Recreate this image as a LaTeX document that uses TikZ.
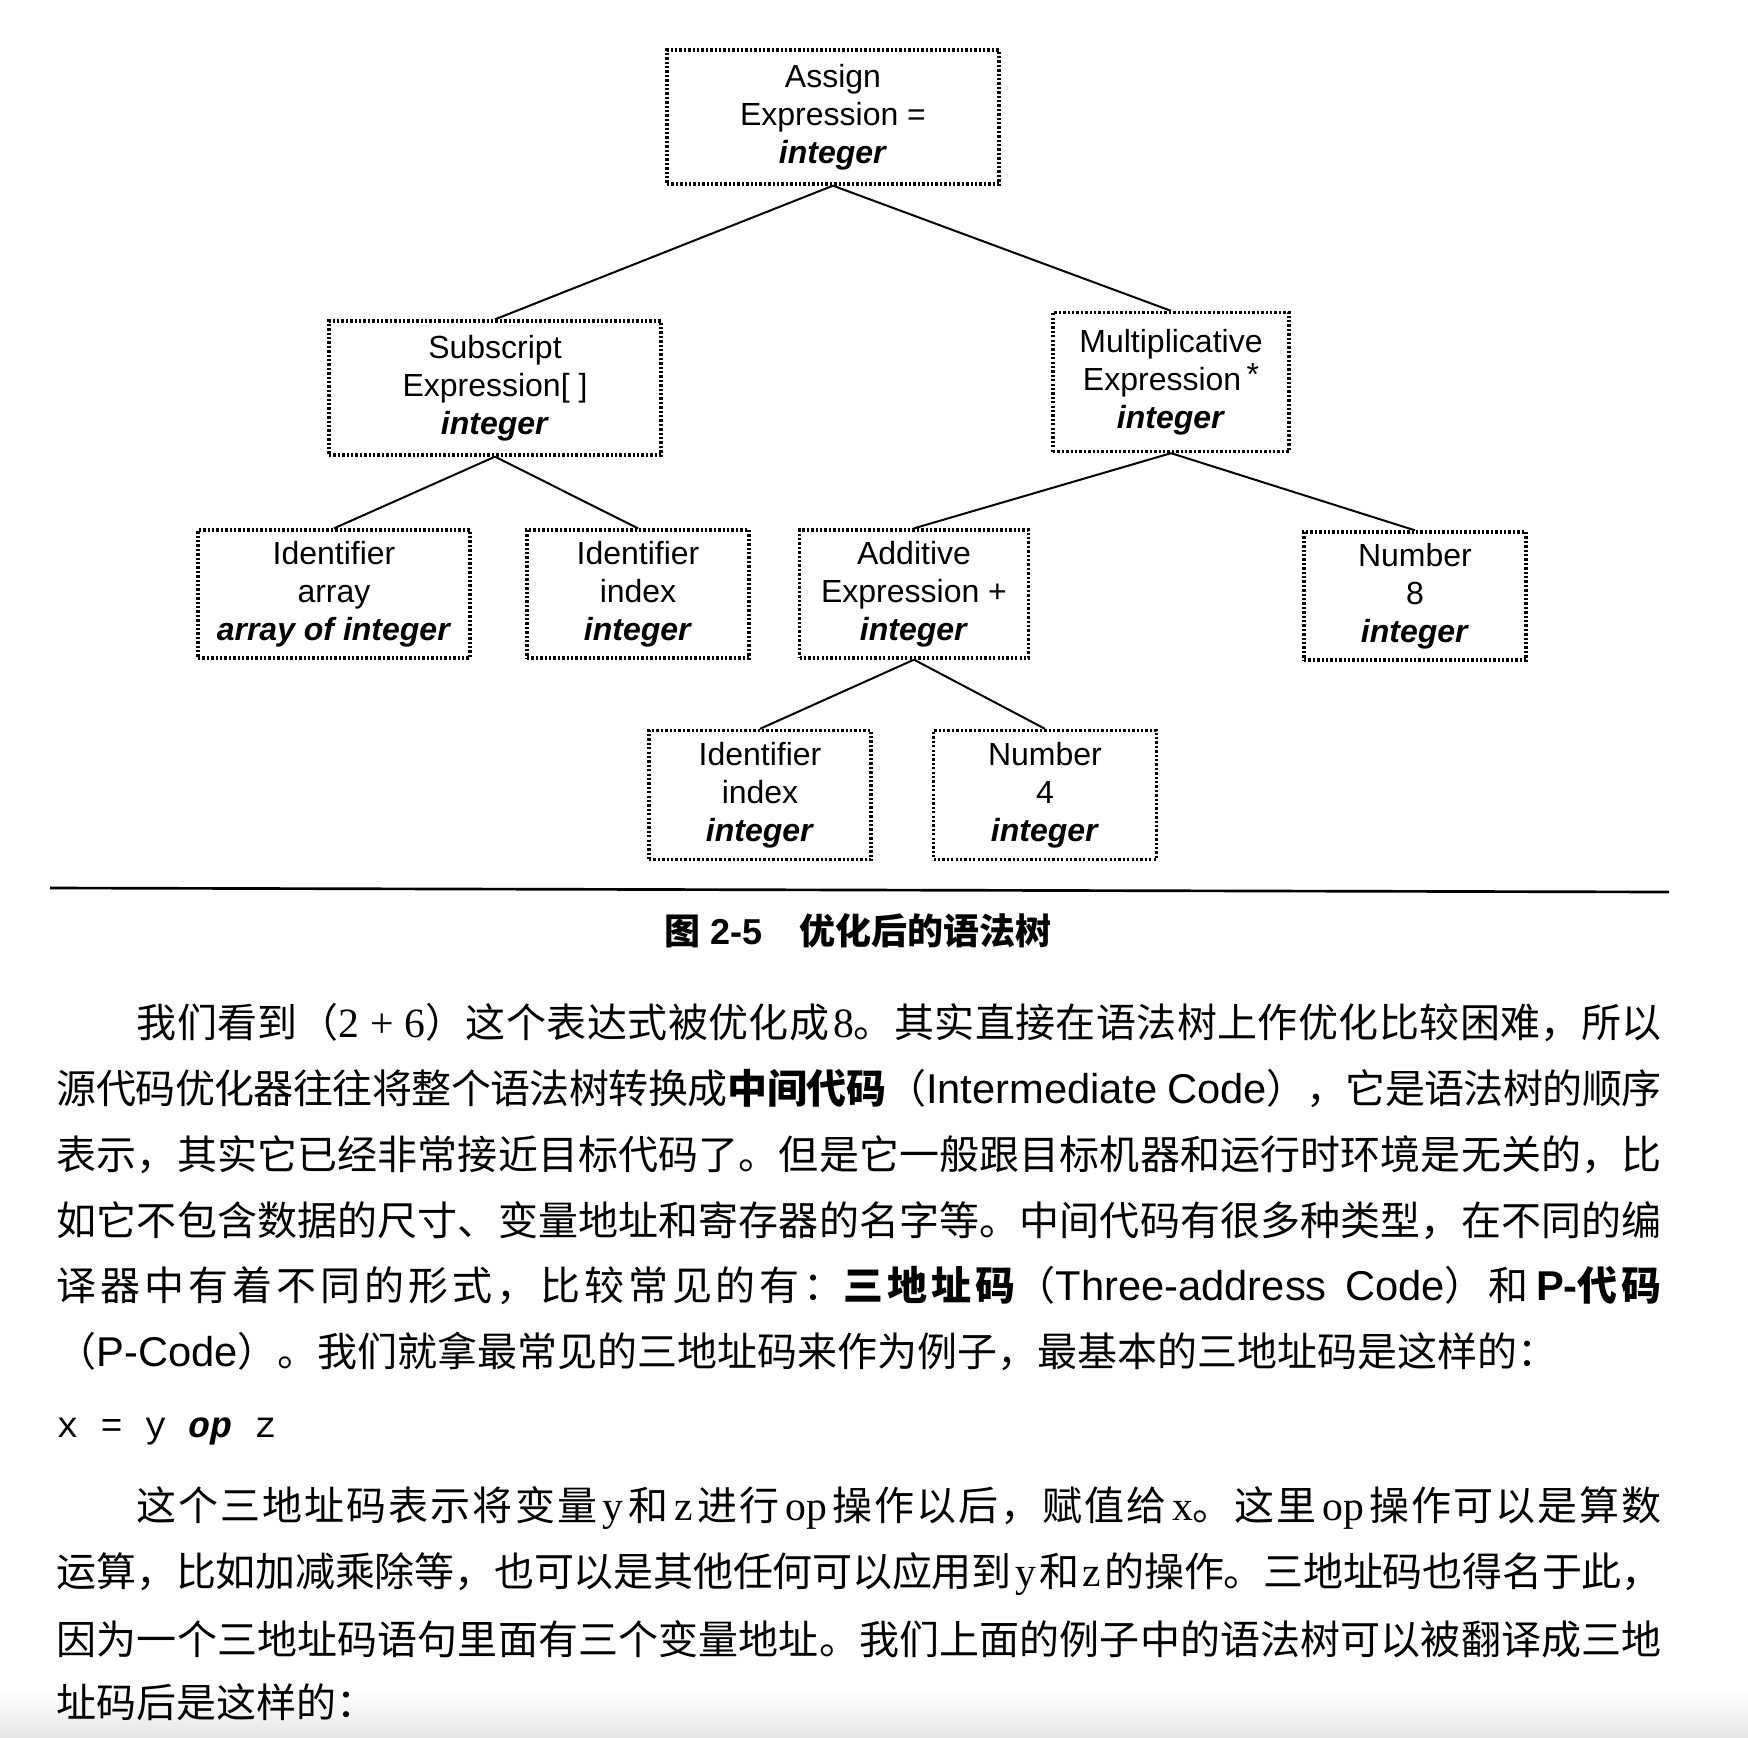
\documentclass[tikz,border=0pt]{standalone}
\usepackage{fontspec}
\setmainfont{Liberation Sans}
\newfontfamily\cjk{Noto Sans CJK SC}
\newfontfamily\sansl{Liberation Sans}
\newfontfamily\serifl{Liberation Serif}
\newfontfamily\monol{Liberation Mono}
% glue between Chinese characters, so that a line can be spread to full width
\XeTeXinterchartokenstate=1
\newXeTeXintercharclass\hanclass
\newcount\hancnt
\hancnt="3000
\loop
  \XeTeXcharclass\hancnt=\hanclass
  \ifnum\hancnt<"9FFF \advance\hancnt by 1
\repeat
\hancnt="FF00
\loop
  \XeTeXcharclass\hancnt=\hanclass
  \ifnum\hancnt<"FFEF \advance\hancnt by 1
\repeat
\XeTeXinterchartoks\hanclass\hanclass={\hskip 0pt plus 1pt minus 0.3pt\relax}
\newcommand\typ[1]{\textbf{\textit{#1}}}
\newcommand\lat[1]{{\serifl\fontsize{12.5}{14}\selectfont #1}}
\newcommand\lsans[1]{{\sansl\fontsize{12.5}{14}\selectfont #1}}
\newcommand\cgap{\hspace{1pt plus 1pt}}
\newcommand\fullline[1]{\hbox to 481.5pt{#1}}
\newcommand\indline[1]{\hbox to 457.5pt{#1}}
\begin{document}
\begin{tikzpicture}[x=0.3pt, y=-0.3pt,
    treebox/.style={draw, line width=1pt, dash pattern=on 0.7pt off 0.62pt,
      align=center, inner sep=2pt, font=\fontsize{9.6}{11.4}\selectfont},
    treeedge/.style={line width=0.6pt},
    bodyline/.style={anchor=west, inner sep=0pt, font=\cjk\fontsize{12}{14}\selectfont}]
    \fill[white] (0,0) rectangle (1748,1738);
    \useasboundingbox (0,0) rectangle (1748,1738);
    \shade[top color=white, bottom color=black!10] (0,1690) rectangle (1748,1738);

    % Draw nodes for the root and level 1
    \node[treebox, minimum width=99.6pt, minimum height=40.2pt] (assign) at (833, 117) {Assign\\Expression =\\\typ{integer}};
    \node[treebox, minimum width=99.6pt, minimum height=40.2pt] (subscr) at (495, 388) {Subscript\\Expression[ ]\\\typ{integer}};
    \node[treebox, minimum width=70.8pt, minimum height=41.7pt] (mult) at (1171, 382) {Multiplicative\\Expression\,\raisebox{0.3ex}{*}\\\typ{integer}};

    % Draw nodes for level 2
    \node[treebox, minimum width=81.6pt, minimum height=38.4pt] (idarr) at (334, 594) {Identifier\\array\\\typ{array of integer}};
    \node[treebox, minimum width=66.6pt, minimum height=38.4pt] (idx) at (638, 594) {Identifier\\index\\\typ{integer}};
    \node[treebox, minimum width=68.7pt, minimum height=38.4pt] (addexp) at (914, 594) {Additive\\Expression +\\\typ{integer}};
    \node[treebox, minimum width=66.6pt, minimum height=38.4pt] (num8) at (1415, 596) {Number\\8\\\typ{integer}};

    % Draw nodes for level 3
    \node[treebox, minimum width=66.6pt, minimum height=38.7pt] (idxb) at (760, 795) {Identifier\\index\\\typ{integer}};
    \node[treebox, minimum width=66.9pt, minimum height=38.7pt] (num4) at (1045, 795) {Number\\4\\\typ{integer}};

    % Draw edges
    \draw[treeedge] (assign.south) -- (subscr.north);
    \draw[treeedge] (assign.south) -- (mult.north);
    \draw[treeedge] (subscr.south) -- (idarr.north);
    \draw[treeedge] (subscr.south) -- (idx.north);
    \draw[treeedge] (mult.south) -- (addexp.north);
    \draw[treeedge] (mult.south) -- (num8.north);
    \draw[treeedge] (addexp.south) -- (idxb.north);
    \draw[treeedge] (addexp.south) -- (num4.north);

    % Rule and caption
    \draw[line width=0.8pt] (50, 888) -- (1669, 892);
    \node[font=\cjk\bfseries\fontsize{10.8}{13}\selectfont] (caption) at (858, 931)
      {图\hspace{3pt}{\sansl\bfseries 2-5}\hspace{11pt}优化后的语法树};

    % Text lines
    \node[bodyline] (l1) at (136, 1023) {\indline{我们看到（\lat{2 + 6}）这个表达式被优化成\cgap{}\lat{8}。其实直接在语法树上作优化比较困难，所以}};
    \node[bodyline] (l2) at (56, 1089) {\fullline{源代码优化器往往将整个语法树转换成{\bfseries 中间代码}（\lsans{Intermediate Code}），它是语法树的顺序}};
    \node[bodyline] (l3) at (56, 1155) {\fullline{表示，其实它已经非常接近目标代码了。但是它一般跟目标机器和运行时环境是无关的，比}};
    \node[bodyline] (l4) at (56, 1221) {\fullline{如它不包含数据的尺寸、变量地址和寄存器的名字等。中间代码有很多种类型，在不同的编}};
    \node[bodyline] (l5) at (56, 1286) {\fullline{译器中有着不同的形式，比较常见的有：{\bfseries 三地址码}（\lsans{Three-address Code}）和\cgap{}\lsans{\bfseries P-}{\bfseries 代码}}};
    \node[bodyline] (l6) at (56, 1351) {（\lsans{P-Code}）。我们就拿最常见的三地址码来作为例子，最基本的三地址码是这样的：};
    \node[anchor=west, inner sep=0pt, font=\monol\fontsize{11}{14}\selectfont] (code) at (56, 1431) {x = y \textbf{\textit{op}} z};
    \node[bodyline] (l8) at (136, 1508) {\indline{这个三地址码表示将变量\cgap{}\lat{y}\cgap{}和\cgap{}\lat{z}\cgap{}进行\cgap{}\lat{op}\cgap{}操作以后，赋值给\cgap{}\lat{x}。这里\cgap{}\lat{op}\cgap{}操作可以是算数}};
    \node[bodyline] (l9) at (56, 1574) {\fullline{运算，比如加减乘除等，也可以是其他任何可以应用到\cgap{}\lat{y}\cgap{}和\cgap{}\lat{z}\cgap{}的操作。三地址码也得名于此，}};
    \node[bodyline] (l10) at (56, 1639) {\fullline{因为一个三地址码语句里面有三个变量地址。我们上面的例子中的语法树可以被翻译成三地}};
    \node[bodyline] (l11) at (56, 1702) {址码后是这样的：};
\end{tikzpicture}
\end{document}
